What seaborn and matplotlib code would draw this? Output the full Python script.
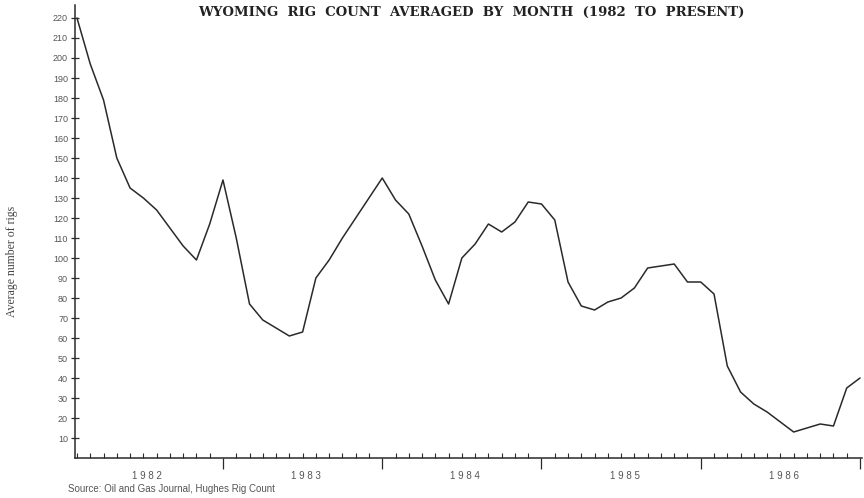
import numpy as np
import pandas as pd
import matplotlib.pyplot as plt
import matplotlib.transforms as mtransforms
import seaborn as sns

sns.set_style('ticks')
plt.rcParams['font.family'] = ['Liberation Sans', 'DejaVu Sans']

# monthly averages, Jan 1982 .. Dec 1986
years = [1982, 1983, 1984, 1985, 1986]
rigs = [220, 197, 179, 150, 135, 130, 124, 115, 106, 99, 117, 139,
        110, 77, 69, 65, 61, 63, 90, 99, 110, 120, 130, 140,
        129, 122, 106, 89, 77, 100, 107, 117, 113, 118, 128, 127,
        119, 88, 76, 74, 78, 80, 85, 95, 96, 97, 88, 88,
        82, 46, 33, 27, 23, 18, 13, 15, 17, 16, 35, 40]
y_ticks = list(range(10, 230, 10))

df = pd.DataFrame({'month': np.arange(len(rigs)), 'rigs': rigs})

ink = '#2a2a2a'
fig = plt.figure(figsize=(8.64, 4.98), dpi=100)
ax = fig.add_axes([75 / 864, 40 / 498, (862 - 75) / 864, (493 - 40) / 498])
sns.lineplot(data=df, x='month', y='rigs', color=ink, linewidth=1.1, ax=ax)

ax.set_xlim(-0.15, 59.15)
ax.set_ylim(0, 226.5)
sns.despine(ax=ax)
for s in ['left', 'bottom']:
    ax.spines[s].set_color(ink)
    ax.spines[s].set_linewidth(1.1)

ax.set_yticks(y_ticks)
ax.tick_params(axis='y', direction='inout', length=6, width=0.9, labelsize=6.5,
               colors=ink, labelcolor='#555555', pad=2)

# year boundaries (major) and months (minor) on the x axis
ax.set_xticks([11 + 12 * i for i in range(len(years))])
ax.set_xticklabels([])
ax.set_xticks(df['month'], minor=True)
ax.tick_params(axis='x', which='major', direction='out', length=8, width=0.9, colors=ink)
ax.tick_params(axis='x', which='minor', direction='in', length=3.5, width=0.8, colors=ink)

trans = mtransforms.blended_transform_factory(ax.transData, ax.transAxes)
for i, yr in enumerate(years):
    ax.text(5.25 + 12 * i, -0.04, ' '.join(str(yr)), transform=trans, ha='center', va='center',
            fontsize=7, color='#555555')

ax.set_xlabel('')
ax.set_ylabel('')

fig.text(0.545, 0.974, 'WYOMING  RIG  COUNT  AVERAGED  BY  MONTH  (1982  TO  PRESENT)',
         ha='center', va='center', fontsize=9.5, fontweight='bold',
         family=['DejaVu Serif'], color='#222222')
fig.text(12 / 864, 1 - 261 / 498, 'Average number of rigs', rotation=90,
         ha='center', va='center', fontsize=8.5,
         family=['Liberation Serif', 'DejaVu Serif'], color='#444444')
fig.text(68 / 864, 1 - 489 / 498, 'Source: Oil and Gas Journal, Hughes Rig Count',
         ha='left', va='center', fontsize=7, color='#555555')

fig.savefig('out.png', dpi=100)
